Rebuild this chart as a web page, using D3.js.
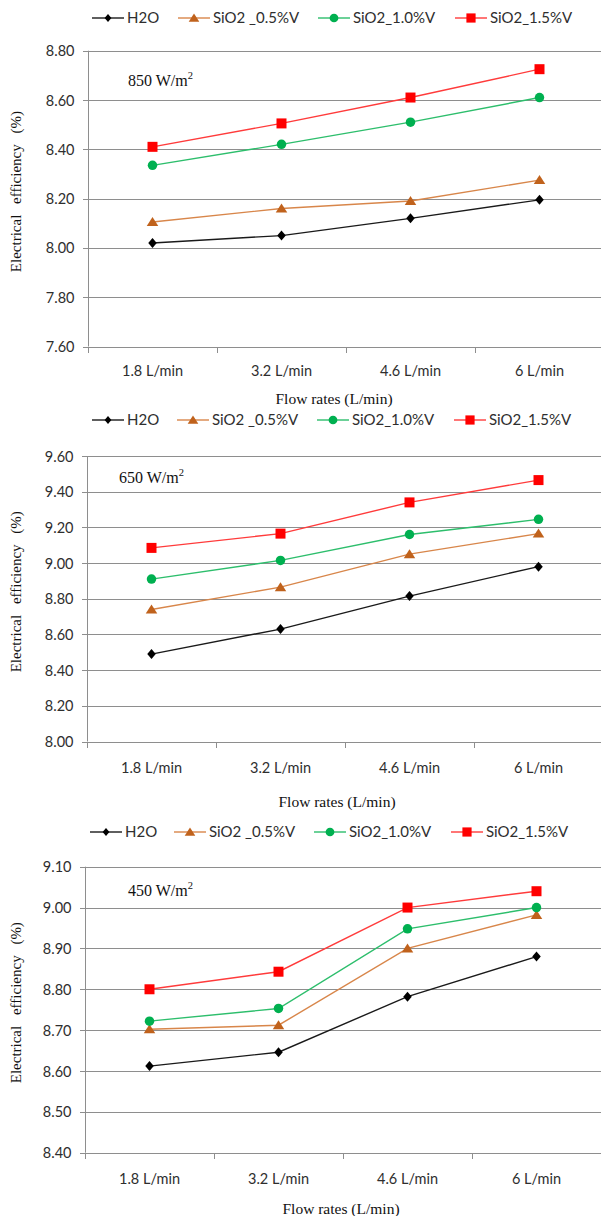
<!DOCTYPE html>
<html>
<head>
<meta charset="utf-8">
<script src="https://cdn.jsdelivr.net/npm/d3@7"></script>
<style>
  html, body { margin: 0; padding: 0; background: #fff; }
  svg { display: block; }
</style>
</head>
<body>
<svg id="chart" width="601" height="1216"></svg>
<script>
// ---------- DATA ----------
const categories = ["1.8 L/min", "3.2 L/min", "4.6 L/min", "6 L/min"];
const seriesNames = ["H2O", "SiO2 _0.5%V", "SiO2_1.0%V", "SiO2_1.5%V"];

// 850 W/m2
const h2o850    = [8.02, 8.05, 8.12, 8.195];
const sio05_850 = [8.105, 8.16, 8.19, 8.275];
const sio10_850 = [8.335, 8.42, 8.51, 8.61];
const sio15_850 = [8.41, 8.505, 8.61, 8.725];
const ticks850  = [7.60, 7.80, 8.00, 8.20, 8.40, 8.60, 8.80];

// 650 W/m2
const h2o650    = [8.49, 8.63, 8.815, 8.98];
const sio05_650 = [8.74, 8.865, 9.05, 9.165];
const sio10_650 = [8.91, 9.015, 9.16, 9.245];
const sio15_650 = [9.085, 9.165, 9.34, 9.465];
const ticks650  = [8.00, 8.20, 8.40, 8.60, 8.80, 9.00, 9.20, 9.40, 9.60];

// 450 W/m2
const h2o450    = [8.612, 8.646, 8.782, 8.88];
const sio05_450 = [8.702, 8.712, 8.90, 8.982];
const sio10_450 = [8.722, 8.753, 8.948, 9.00];
const sio15_450 = [8.80, 8.843, 9.00, 9.04];
const ticks450  = [8.40, 8.50, 8.60, 8.70, 8.80, 8.90, 9.00, 9.10];

const irradianceLabels = ["850", "650", "450"];
const xTitle = "Flow rates (L/min)";
const yTitle = "Electrical efficiency (%)";

// ---------- STYLE / LAYOUT ----------
const seriesStyle = [
  { marker: "diamond",  fill: "#000000", line: "#1a1a1a" },
  { marker: "triangle", fill: "#C0621C", line: "#D8864A" },
  { marker: "circle",   fill: "#00B050", line: "#2DBE6C" },
  { marker: "square",   fill: "#FF0000", line: "#FF3B3B" }
];

const panels = [
  { series: [h2o850, sio05_850, sio10_850, sio15_850], ticks: ticks850, label: irradianceLabels[0],
    legendY: 18, top: 50.7, bottom: 346.5, left: 88, xLabelY: 370, titleY: 399, titleX: 334,
    labelX: 128, labelY: 80, legendX: [92, 178, 318, 455] },
  { series: [h2o650, sio05_650, sio10_650, sio15_650], ticks: ticks650, label: irradianceLabels[1],
    legendY: 420, top: 456, bottom: 741.5, left: 87, xLabelY: 767, titleY: 802, titleX: 337,
    labelX: 119, labelY: 477, legendX: [92, 177, 317, 454] },
  { series: [h2o450, sio05_450, sio10_450, sio15_450], ticks: ticks450, label: irradianceLabels[2],
    legendY: 832, top: 866.7, bottom: 1152.7, left: 85, xLabelY: 1178, titleY: 1209, titleX: 341,
    labelX: 128, labelY: 890, legendX: [90, 174, 314, 451] }
];

const gridColor = "#8e8e8e";
const textColor = "#2e2e2e";
const sansFont = "Lato, 'Open Sans', sans-serif";
const serifFont = "'Liberation Serif', 'DejaVu Serif', serif";

const svg = d3.select("#chart");

function markerPath(type, s) {
  const p = d3.path();
  if (type === "diamond") {
    p.moveTo(0, -s); p.lineTo(s * 0.85, 0); p.lineTo(0, s); p.lineTo(-s * 0.85, 0); p.closePath();
  } else if (type === "triangle") {
    p.moveTo(0, -s * 1.0); p.lineTo(s * 1.15, s * 0.8); p.lineTo(-s * 1.15, s * 0.8); p.closePath();
  } else if (type === "circle") {
    p.arc(0, 0, s * 0.95, 0, 2 * Math.PI);
  } else {
    p.rect(-s, -s, 2 * s, 2 * s);
  }
  return p.toString();
}

panels.forEach((P) => {
  const g = svg.append("g");
  const bandW = 129;
  const right = P.left + bandW * 4;

  const x = d3.scaleBand().domain(categories).range([P.left, right]).paddingInner(0).paddingOuter(0);
  const yMin = d3.min(P.ticks), yMax = d3.max(P.ticks);
  const y = d3.scaleLinear().domain([yMin, yMax]).range([P.bottom, P.top]);

  // gridlines
  g.append("g")
    .selectAll("line")
    .data(P.ticks)
    .join("line")
    .attr("x1", P.left - 5)
    .attr("x2", 601)
    .attr("y1", d => Math.round(y(d)) + 0.5)
    .attr("y2", d => Math.round(y(d)) + 0.5)
    .attr("stroke", gridColor)
    .attr("stroke-width", 1);

  // y axis
  const yAxis = d3.axisLeft(y).tickValues(P.ticks).tickFormat(d3.format(".2f")).tickSize(0).tickPadding(14);
  const ya = g.append("g").attr("transform", `translate(${P.left + 0.5},0)`).call(yAxis);
  ya.select(".domain").remove();
  ya.selectAll("text")
    .attr("font-family", sansFont)
    .attr("font-size", 14.5)
    .attr("fill", textColor)
    .attr("dy", "0.35em");
  g.append("line")
    .attr("x1", P.left + 0.5).attr("x2", P.left + 0.5)
    .attr("y1", P.top).attr("y2", P.bottom)
    .attr("stroke", gridColor).attr("stroke-width", 1);

  // x axis
  const xAxis = d3.axisBottom(x).tickSize(0).tickPadding(0);
  const xa = g.append("g").attr("transform", `translate(0,${Math.round(P.bottom) + 0.5})`).call(xAxis);
  xa.select(".domain").remove();
  xa.selectAll("text")
    .attr("font-family", sansFont)
    .attr("font-size", 14.5)
    .attr("fill", textColor)
    .attr("y", P.xLabelY - Math.round(P.bottom))
    .attr("dy", "0.35em");
  // band boundary ticks
  const boundaries = categories.map(c => x(c)).concat([right]);
  g.append("g")
    .selectAll("line")
    .data(boundaries)
    .join("line")
    .attr("x1", d => Math.round(d) + 0.5)
    .attr("x2", d => Math.round(d) + 0.5)
    .attr("y1", Math.round(P.bottom))
    .attr("y2", Math.round(P.bottom) + 6)
    .attr("stroke", gridColor);

  // axis titles
  g.append("text")
    .attr("x", P.titleX)
    .attr("y", P.titleY)
    .attr("dy", "0.35em")
    .attr("text-anchor", "middle")
    .attr("font-family", serifFont)
    .attr("font-size", 15.5)
    .attr("fill", "#111")
    .text(xTitle);

  g.append("text")
    .attr("transform", `translate(16,${(P.top + P.bottom) / 2 - 7}) rotate(-90)`)
    .attr("dy", "0.35em")
    .attr("text-anchor", "middle")
    .attr("font-family", serifFont)
    .attr("font-size", 15)
    .attr("word-spacing", 7)
    .attr("fill", "#111")
    .text(yTitle);

  // irradiance label
  const lt = g.append("text")
    .attr("x", P.labelX)
    .attr("y", P.labelY)
    .attr("dy", "0.35em")
    .attr("font-family", serifFont)
    .attr("font-size", 16)
    .attr("fill", "#111");
  lt.append("tspan").text(P.label + " W/m");
  lt.append("tspan").attr("font-size", 10.5).attr("dy", "-0.6em").text("2");

  // series lines + markers
  const cx = i => x(categories[i]) + x.bandwidth() / 2;
  P.series.forEach((vals, si) => {
    const st = seriesStyle[si];
    const line = d3.line().x((d, i) => cx(i)).y(d => y(d));
    g.append("path")
      .datum(vals)
      .attr("d", line)
      .attr("fill", "none")
      .attr("stroke", st.line)
      .attr("stroke-width", 1.4);
  });
  P.series.forEach((vals, si) => {
    const st = seriesStyle[si];
    g.append("g")
      .selectAll("path")
      .data(vals)
      .join("path")
      .attr("transform", (d, i) => `translate(${cx(i)},${y(d)})`)
      .attr("d", markerPath(st.marker, 5))
      .attr("fill", st.fill);
  });

  // legend
  const lg = g.append("g");
  seriesNames.forEach((name, si) => {
    const st = seriesStyle[si];
    const lx = P.legendX[si];
    lg.append("line")
      .attr("x1", lx).attr("x2", lx + 32)
      .attr("y1", P.legendY).attr("y2", P.legendY)
      .attr("stroke", st.line).attr("stroke-width", 1.4);
    lg.append("path")
      .attr("transform", `translate(${lx + 16},${P.legendY})`)
      .attr("d", markerPath(st.marker, si === 0 ? 4 : 4.6))
      .attr("fill", st.fill);
    lg.append("text")
      .attr("x", lx + 35)
      .attr("y", P.legendY)
      .attr("dy", "0.35em")
      .attr("font-family", sansFont)
      .attr("font-size", 15)
      .attr("fill", textColor)
      .text(name);
  });
});
</script>
</body>
</html>
